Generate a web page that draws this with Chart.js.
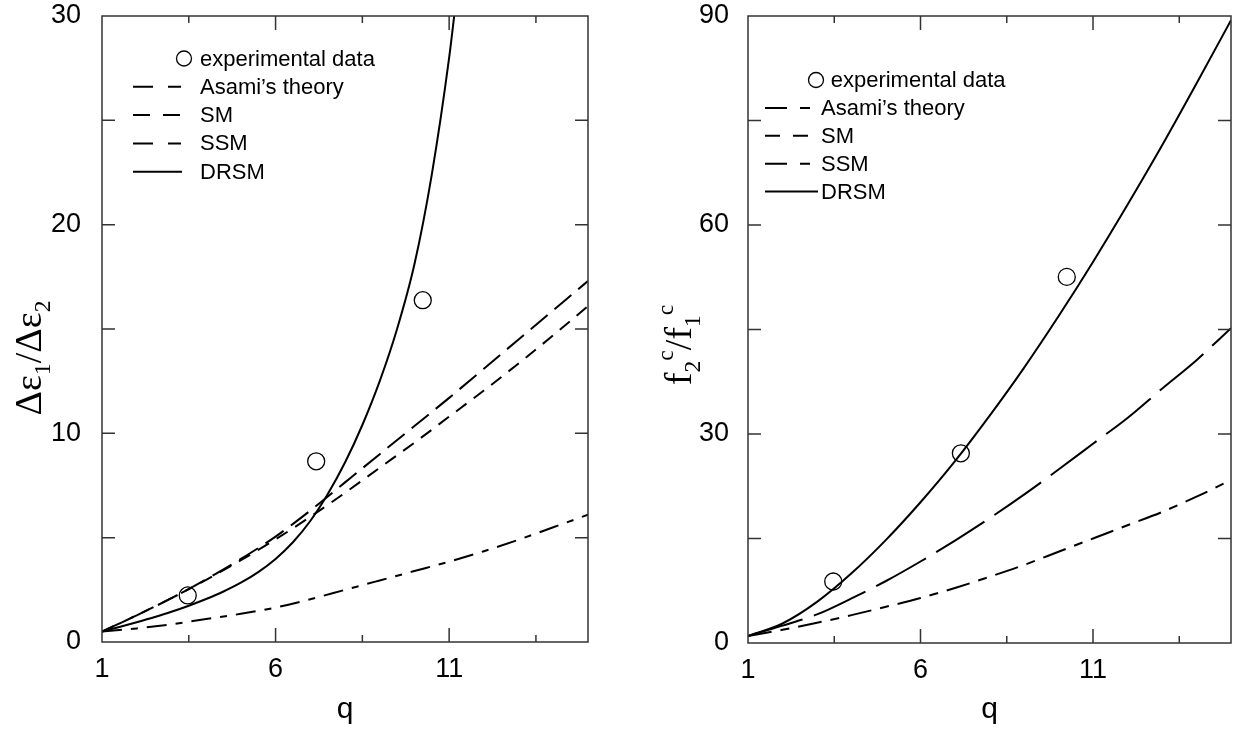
<!DOCTYPE html>
<html>
<head>
<meta charset="utf-8">
<script src="https://cdn.jsdelivr.net/npm/chart.js@4.4.0/dist/chart.umd.min.js"></script>
<style>
  html, body { margin: 0; padding: 0; background: #fff; }
  body { width: 1241px; height: 740px; position: relative; overflow: hidden; }
  .panel { position: absolute; top: 0; height: 740px; }
  #left { left: 0; width: 620px; }
  #right { left: 620px; width: 621px; }
</style>
</head>
<body>
<div class="panel" id="left"><canvas id="chartLeft"></canvas></div>
<div class="panel" id="right"><canvas id="chartRight"></canvas></div>
<script>
// q values shared by the theory curves
const qGrid = [1, 2, 3, 4, 5, 6, 7, 8, 9, 10, 11, 12, 13, 14, 15];

// left panel: Δε1/Δε2
const leftAsami = [0.5, 1.28, 2.1, 3.0, 3.98, 5.05, 6.3, 7.65, 9.0, 10.35, 11.7, 13.1, 14.5, 15.9, 17.3];
const leftSM = [0.5, 1.28, 2.1, 2.98, 3.92, 4.92, 6.0, 7.15, 8.35, 9.55, 10.8, 12.05, 13.35, 14.7, 16.1];
const leftSSM = [0.5, 0.65, 0.85, 1.1, 1.35, 1.65, 2.05, 2.5, 2.95, 3.4, 3.85, 4.35, 4.9, 5.5, 6.1];
const leftDrsmQ = [1, 1.5, 2, 2.5, 3, 3.5, 4, 4.5, 5, 5.5, 6, 6.5, 7, 7.5, 8, 8.5, 9, 9.5, 10, 10.5, 11, 11.25];
const leftDRSM = [0.5, 0.72, 0.95, 1.19, 1.45, 1.74, 2.06, 2.42, 2.84, 3.35, 3.98, 4.78, 5.8, 7.08, 8.6, 10.4, 12.5, 15.0, 18.1, 22.4, 28.0, 31.5];

// right panel: f2c/f1c
const rightAsami = [1.0, 2.5, 4.1, 6.4, 8.9, 11.7, 14.7, 17.9, 21.3, 24.9, 28.6, 32.3, 36.5, 40.6, 45.2];
const rightSSM = [1.0, 1.9, 2.9, 4.0, 5.2, 6.45, 7.9, 9.5, 11.2, 13.1, 15.0, 16.9, 18.8, 21.0, 23.4];
const rightDRSM = [1.0, 2.8, 5.9, 10.0, 14.8, 20.2, 26.1, 32.6, 39.5, 46.9, 54.7, 62.9, 71.4, 80.3, 89.4];

// experimental points
const expQ = [3.47, 7.17, 10.24];
const leftExp = [2.23, 8.66, 16.38];
const rightExp = [8.83, 27.23, 52.55];

// ticks
const xTickLabels = [1, 6, 11];
const xMajorMarks = [6, 11];
const xMinorMarks = [3.5, 8.5, 13.5];
const leftYTicks = [0, 10, 20, 30];
const leftYMarks = [5, 10, 15, 20, 25];
const rightYTicks = [0, 30, 60, 90];
const rightYMarks = [15, 30, 45, 60, 75];

const legendLabels = ["experimental data", "Asami\u2019s theory", "SM", "SSM", "DRSM"];

const SANS = '"Liberation Sans", Arial, Helvetica, sans-serif';
const SERIF = '"Liberation Serif", "Times New Roman", serif';

const toPoints = (xs, ys) => xs.map((x, i) => ({ x: x, y: ys[i] }));

function curve(label, xs, ys, dash) {
    return {
        label: label,
        data: toPoints(xs, ys),
        borderColor: "#000",
        borderWidth: 2,
        borderDash: dash,
        pointRadius: 0,
        fill: false,
        cubicInterpolationMode: "monotone",
    };
}

function experimental(ys) {
    return {
        label: "experimental data",
        data: toPoints(expQ, ys),
        showLine: false,
        pointStyle: "circle",
        pointRadius: 8.5,
        pointBorderWidth: 1.3,
        pointBorderColor: "#000",
        pointBackgroundColor: "rgba(0,0,0,0)",
    };
}

function drawYTitle(ctx, parts, cx, cy, size) {
    ctx.save();
    ctx.translate(cx, cy);
    ctx.rotate(-Math.PI / 2);
    ctx.fillStyle = "#000";
    ctx.textAlign = "left";
    ctx.textBaseline = "alphabetic";
    const items = parts.map((p) => {
        const s = p.sub || p.sup ? size * 0.62 : size;
        ctx.font = `${s}px ${SERIF}`;
        return { ...p, s: s, w: ctx.measureText(p.t).width };
    });
    const total = items.reduce((acc, it) => acc + it.w, 0);
    let x = -total / 2;
    const base = size * 0.33;
    items.forEach((it) => {
        ctx.font = `${it.s}px ${SERIF}`;
        let dy = 0;
        if (it.sub) dy = size * 0.25;
        if (it.sup) dy = -size * 0.45;
        ctx.fillText(it.t, x, base + dy);
        x += it.w;
    });
    ctx.restore();
}

function drawLegend(ctx, L) {
    ctx.save();
    ctx.font = `${L.size}px ${SANS}`;
    ctx.fillStyle = "#000";
    ctx.strokeStyle = "#000";
    ctx.textBaseline = "middle";
    ctx.textAlign = "left";
    legendLabels.forEach((label, i) => {
        const y = L.top + i * L.step;
        if (i === 0) {
            ctx.lineWidth = 1.3;
            ctx.setLineDash([]);
            ctx.beginPath();
            ctx.arc(L.circleX, y, L.r, 0, Math.PI * 2);
            ctx.stroke();
            ctx.fillText(label, L.firstTextX, y + 1);
        } else {
            ctx.lineWidth = 2;
            ctx.setLineDash(L.dashes[i - 1]);
            ctx.beginPath();
            ctx.moveTo(L.lineFrom, y);
            ctx.lineTo(L.lineTo, y);
            ctx.stroke();
            ctx.fillText(label, L.textX, y + 1);
        }
    });
    ctx.restore();
}

const panelPlugin = {
    id: "panel",
    afterDraw(chart, args, opts) {
        const { ctx, chartArea: a } = chart;
        const xs = chart.scales.x;
        const ys = chart.scales.y;
        ctx.save();
        ctx.strokeStyle = "#333";
        ctx.lineWidth = 1.5;
        ctx.setLineDash([]);
        ctx.strokeRect(a.left, a.top, a.right - a.left, a.bottom - a.top);
        ctx.beginPath();
        xMajorMarks.forEach((v) => {
            const px = xs.getPixelForValue(v);
            ctx.moveTo(px, a.bottom); ctx.lineTo(px, a.bottom - 14);
            ctx.moveTo(px, a.top); ctx.lineTo(px, a.top + 14);
        });
        xMinorMarks.forEach((v) => {
            const px = xs.getPixelForValue(v);
            ctx.moveTo(px, a.bottom); ctx.lineTo(px, a.bottom - 7);
            ctx.moveTo(px, a.top); ctx.lineTo(px, a.top + 7);
        });
        opts.yMarks.forEach((v) => {
            const py = ys.getPixelForValue(v);
            ctx.moveTo(a.left, py); ctx.lineTo(a.left + 13, py);
            ctx.moveTo(a.right, py); ctx.lineTo(a.right - 13, py);
        });
        ctx.stroke();
        ctx.restore();
        drawYTitle(ctx, opts.yTitle, opts.titleX, opts.titleY, opts.titleSize);
        drawLegend(ctx, opts.legend);
    },
};

function makePanel(canvasId, cfg) {
    return new Chart(document.getElementById(canvasId), {
        type: "line",
        data: { datasets: cfg.datasets },
        options: {
            responsive: true,
            maintainAspectRatio: false,
            animation: false,
            events: [],
            layout: { padding: { top: 16, right: cfg.padRight, left: 0, bottom: 0 } },
            plugins: {
                legend: { display: false },
                tooltip: { enabled: false },
                panel: cfg.panel,
            },
            scales: {
                x: {
                    type: "linear",
                    min: 1,
                    max: 15,
                    afterBuildTicks: (s) => { s.ticks = xTickLabels.map((v) => ({ value: v })); },
                    afterFit: (s) => {
                        s.height = cfg.xHeight;
                        s.paddingLeft = 0;
                        s.paddingRight = 0;
                    },
                    grid: { display: false, drawTicks: false },
                    border: { display: false },
                    ticks: {
                        color: "#000",
                        font: { family: SANS, size: 27 },
                        padding: 11,
                        maxRotation: 0,
                        autoSkip: false,
                    },
                    title: {
                        display: true,
                        text: "q",
                        color: "#000",
                        font: { family: SANS, size: 30 },
                        padding: { top: 0, bottom: 12 },
                    },
                },
                y: {
                    type: "linear",
                    min: 0,
                    max: cfg.yMax,
                    afterBuildTicks: (s) => { s.ticks = cfg.yTicks.map((v) => ({ value: v })); },
                    afterFit: (s) => {
                        s.width = cfg.yWidth;
                        s.paddingTop = 0;
                        s.paddingBottom = 0;
                    },
                    grid: { display: false, drawTicks: false },
                    border: { display: false },
                    ticks: {
                        color: "#000",
                        font: { family: SANS, size: 27 },
                        padding: cfg.yPad,
                    },
                },
            },
        },
        plugins: [panelPlugin],
    });
}

makePanel("chartLeft", {
    datasets: [
        experimental(leftExp),
        curve("Asami\u2019s theory", qGrid, leftAsami, [22, 9]),
        curve("SM", qGrid, leftSM, [13, 9]),
        curve("SSM", qGrid, leftSSM, [20, 9, 7, 9]),
        curve("DRSM", leftDrsmQ, leftDRSM, []),
    ],
    yMax: 30,
    yTicks: leftYTicks,
    yWidth: 102,
    yPad: 21,
    xHeight: 98,
    padRight: 32,
    panel: {
        yMarks: leftYMarks,
        yTitle: [{ t: "\u0394\u03b5" }, { t: "1", sub: true }, { t: "/\u0394\u03b5" }, { t: "2", sub: true }],
        titleX: 28,
        titleY: 358,
        titleSize: 38,
        legend: {
            size: 22, top: 58.5, step: 28.3,
            circleX: 184, r: 7.5, firstTextX: 200, textX: 200,
            lineFrom: 133, lineTo: 182,
            dashes: [[20, 15, 13], [17, 13], [20, 15, 13], []],
        },
    },
});

makePanel("chartRight", {
    datasets: [
        experimental(rightExp),
        curve("Asami\u2019s theory", qGrid, rightAsami, [57, 12]),
        curve("SSM", qGrid, rightSSM, [24, 9, 9, 9]),
        curve("DRSM", qGrid, rightDRSM, []),
    ],
    yMax: 90,
    yTicks: rightYTicks,
    yWidth: 128,
    yPad: 19,
    xHeight: 97,
    padRight: 10,
    panel: {
        yMarks: rightYMarks,
        yTitle: [{ t: "f" }, { t: "2", sub: true }, { t: "c", sup: true }, { t: "/f" }, { t: "1", sub: true }, { t: "c", sup: true }],
        titleX: 58,
        titleY: 345,
        titleSize: 38,
        legend: {
            size: 22, top: 80, step: 27.9,
            circleX: 196, r: 7.5, firstTextX: 210.7, textX: 201,
            lineFrom: 145, lineTo: 198,
            dashes: [[22, 13, 10], [15, 13], [22, 13, 10], []],
        },
    },
});
</script>
</body>
</html>
